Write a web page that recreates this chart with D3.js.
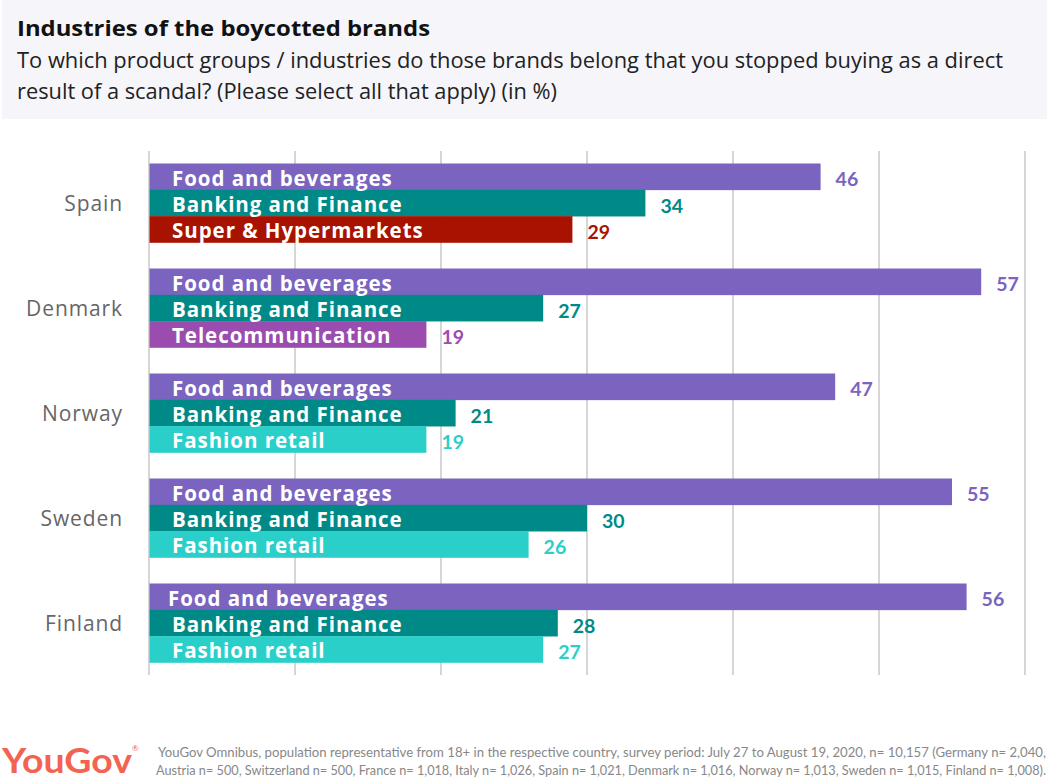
<!DOCTYPE html>
<html><head><meta charset="utf-8">
<script src="https://cdn.jsdelivr.net/npm/d3@7"></script>
<style>body{margin:0;background:#fff;}svg{display:block;}</style>
</head><body>
<svg id="c" width="1049" height="781"></svg>
<script>
const countries = ["Spain","Denmark","Norway","Sweden","Finland"];
const industries = [
  ["Food and beverages","Banking and Finance","Super & Hypermarkets"],
  ["Food and beverages","Banking and Finance","Telecommunication"],
  ["Food and beverages","Banking and Finance","Fashion retail"],
  ["Food and beverages","Banking and Finance","Fashion retail"],
  ["Food and beverages","Banking and Finance","Fashion retail"]
];
const values = [
  [46,34,29],
  [57,27,19],
  [47,21,19],
  [55,30,26],
  [56,28,27]
];
const xTicks = [0,10,20,30,40,50,60];
const industryColors = {
  "Food and beverages":"#7b63c0",
  "Banking and Finance":"#008a87",
  "Super & Hypermarkets":"#a81200",
  "Telecommunication":"#9a4caf",
  "Fashion retail":"#2bcfca"
};
const title = "Industries of the boycotted brands";
const subtitle = ["To which product groups / industries do those brands belong that you stopped buying as a direct","result of a scandal? (Please select all that apply) (in %)"];
const footer = ["YouGov Omnibus, population representative from 18+ in the respective country, survey period: July 27 to August 19, 2020, n= 10,157 (Germany n= 2,040,","Austria n= 500, Switzerland n= 500, France n= 1,018, Italy n= 1,026, Spain n= 1,021, Denmark n= 1,016, Norway n= 1,013, Sweden n= 1,015, Finland n= 1,008)."];

const svg = d3.select("#c");
const FONT = "'Open Sans', Lato, sans-serif";
const LFONT = "Lato, 'Open Sans', sans-serif";

// header
svg.append("rect").attr("x",2).attr("y",0).attr("width",1045).attr("height",119).attr("fill","#f5f5fa");
svg.append("text").attr("x",17).attr("y",36).attr("font-family",FONT).attr("font-weight",700)
  .attr("font-size",22).attr("fill","#111").attr("textLength",413).attr("lengthAdjust","spacingAndGlyphs").text(title);
const subLens = [986,540];
subtitle.forEach((s,i)=>{
  svg.append("text").attr("x",17).attr("y",68+i*31).attr("font-family",FONT).attr("font-weight",400)
    .attr("font-size",21).attr("fill","#222").attr("textLength",subLens[i]).attr("lengthAdjust","spacingAndGlyphs").text(s);
});

const x = d3.scaleLinear().domain([0,60]).range([149,1025]);
const y = d3.scaleBand().domain(countries).range([151,675]).paddingInner(0.2476).paddingOuter(0.119);
const yi = d3.scaleBand().domain([0,1,2]).range([0,y.bandwidth()]);

// gridlines
svg.append("g").selectAll("line").data(xTicks).join("line")
  .attr("x1",d=>x(d)).attr("x2",d=>x(d)).attr("y1",151).attr("y2",675)
  .attr("stroke","#d6d6d6").attr("stroke-width",2);

const rows = [];
countries.forEach((c,ci)=>{
  industries[ci].forEach((ind,k)=>rows.push({country:c,ind,k,v:values[ci][k]}));
});

const g = svg.append("g");
g.selectAll("rect").data(rows).join("rect")
  .attr("x",x(0)+0.5).attr("y",d=>y(d.country)+yi(d.k))
  .attr("width",d=>x(d.v)-x(0)-0.5).attr("height",yi.bandwidth()+0.3)
  .attr("fill",d=>industryColors[d.ind]);

g.selectAll("text.lab").data(rows).join("text").attr("class","lab")
  .attr("x",d=>(d.country==="Finland"&&d.k===0)?168:172)
  .attr("y",d=>y(d.country)+yi(d.k)+yi.bandwidth()/2)
  .attr("dy","0.44em").attr("font-family",FONT).attr("font-weight",700)
  .attr("font-size",20.5).attr("letter-spacing",0.95).attr("fill","#fff").text(d=>d.ind);

g.selectAll("text.val").data(rows).join("text").attr("class","val")
  .attr("x",d=>x(d.v)+15)
  .attr("y",d=>y(d.country)+yi(d.k)+yi.bandwidth()/2)
  .attr("dy","0.5em").attr("font-family",LFONT).attr("font-weight",700)
  .attr("font-size",19.5).attr("fill",d=>industryColors[d.ind]).text(d=>d.v);

// country labels
svg.append("g").selectAll("text").data(countries).join("text")
  .attr("x",123).attr("y",d=>y(d)+y.bandwidth()/2).attr("dy","0.36em")
  .attr("text-anchor","end").attr("font-family",FONT).attr("font-size",21).attr("letter-spacing",0.9)
  .attr("fill","#666").text(d=>d);

// footer
svg.append("text").attr("x",2).attr("y",773).attr("font-family",LFONT).attr("font-weight",700)
  .attr("font-size",34).attr("fill","#f26451").attr("textLength",130).attr("lengthAdjust","spacingAndGlyphs").text("YouGov");
svg.append("text").attr("x",132).attr("y",751).attr("font-family",LFONT)
  .attr("font-size",8).attr("fill","#f26451").text("®");
footer.forEach((s,i)=>{
  svg.append("text").attr("x",158+(i===1?-2:0)).attr("y",757+i*18).attr("font-family",LFONT)
    .attr("font-size",12.5).attr("fill","#888")
    .attr("textLength",i===0?888:890).attr("lengthAdjust","spacingAndGlyphs").text(s);
});
</script>
</body></html>
